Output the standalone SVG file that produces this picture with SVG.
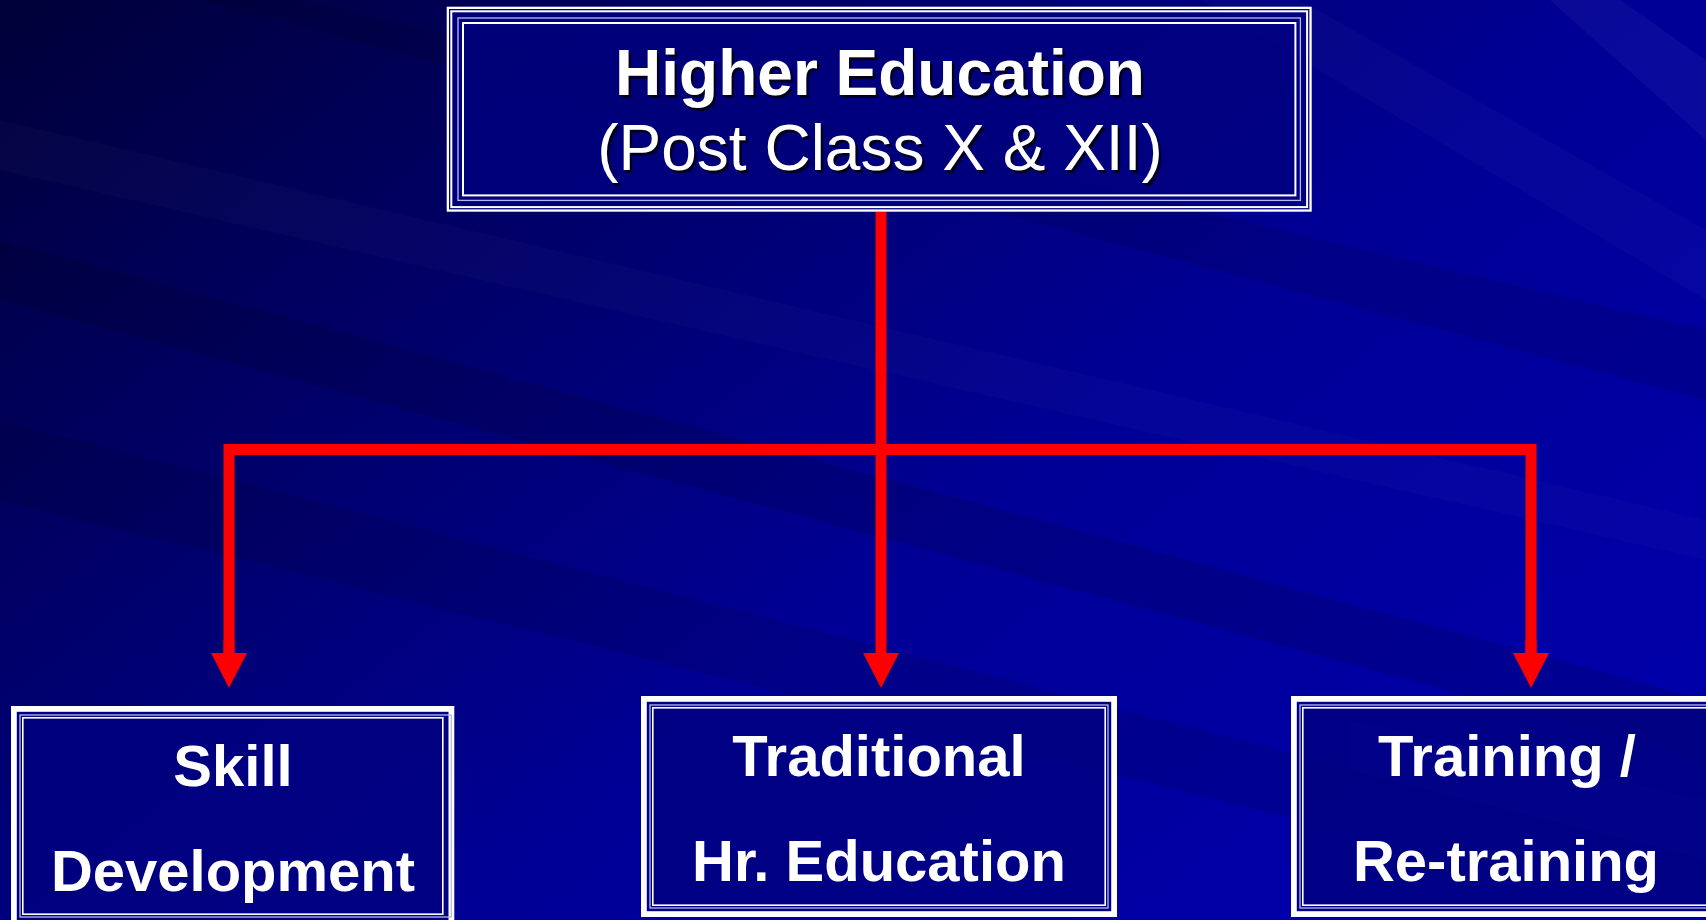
<svg xmlns="http://www.w3.org/2000/svg" width="1706" height="920" viewBox="0 0 1706 920">
<defs>
<linearGradient id="bg" x1="0" y1="0" x2="1" y2="0.7">
<stop offset="0" stop-color="#000038"/>
<stop offset="0.35" stop-color="#00006c"/>
<stop offset="0.65" stop-color="#000096"/>
<stop offset="1" stop-color="#0000a8"/>
</linearGradient>
<marker id="arr" viewBox="0 0 35 36" refX="0" refY="18" markerWidth="35" markerHeight="36" markerUnits="userSpaceOnUse" orient="auto">
<path d="M0,0 L35,18 L0,36 Z" fill="#ff0000"/>
</marker>
<style>
.w{fill:none;stroke:#ffffff}
.lt{fill:none;stroke:#b8b8f0}
.fill{fill:#000080;fill-opacity:0.82}
.t{font-family:"Liberation Sans",Arial,sans-serif;fill:#ffffff;text-anchor:middle}
.b{font-weight:bold}
.sh{fill:#000020}
.con{fill:none;stroke:#ff0000;stroke-width:11}
</style>
</defs>
<rect width="1706" height="920" fill="url(#bg)"/>
<g id="streaks">
<polygon points="0,240 1706,700 1706,760 0,300" fill="#000000" opacity="0.12"/>
<polygon points="0,420 1706,860 1706,920 0,500" fill="#000000" opacity="0.1"/>
<polygon points="0,120 1706,520 1706,560 0,170" fill="#ffffff" opacity="0.02"/>
<polygon points="300,0 1706,330 1706,400 200,0" fill="#000000" opacity="0.1"/>
<polygon points="1300,0 1706,230 1706,300 1200,0" fill="#ffffff" opacity="0.025"/>
<polygon points="1550,0 1706,140 1706,60 1620,0" fill="#ffffff" opacity="0.04"/>
<polygon points="1350,720 1706,800 1706,860 1350,770" fill="#ffffff" opacity="0.06"/>
</g>
<g id="connectors">
<line class="con" x1="881" y1="212" x2="881" y2="653" marker-end="url(#arr)"/>
<polyline class="con" points="229,653 229,449.5 1531,449.5 1531,653"/>
<line class="con" x1="229" y1="640" x2="229" y2="653" marker-end="url(#arr)"/>
<line class="con" x1="1531" y1="640" x2="1531" y2="653" marker-end="url(#arr)"/>
</g>
<g id="node-top">
<rect class="fill" x="446.7" y="6.7" width="865" height="205" fill-opacity="0.7"/>
<rect class="w" x="447.85" y="7.85" width="862.7" height="202.7" stroke-width="2.3"/>
<rect class="w" x="451.3" y="11.3" width="855.8" height="195.8" stroke-width="2"/>
<rect class="lt" x="458" y="18" width="842.4" height="182.4" stroke-width="1.3"/>
<rect class="w" x="463" y="23" width="832.4" height="172.4" stroke-width="2"/>
<text class="t b sh" x="882.5" y="97.5" font-size="64">Higher Education</text>
<text class="t b" x="880" y="95" font-size="64">Higher Education</text>
<text class="t sh" x="882.5" y="172.5" font-size="64">(Post Class X &amp; XII)</text>
<text class="t" x="880" y="170" font-size="64">(Post Class X &amp; XII)</text>
</g>
<g id="node-skill">
<rect class="fill" x="11" y="706" width="443.3" height="220"/>
<rect class="w" x="13.9" y="708.9" width="437.5" height="214.2" stroke-width="5.8"/>
<rect class="lt" x="20" y="715" width="431.3" height="202" stroke-width="1.3"/>
<rect class="w" x="22.8" y="717.8" width="420" height="196.4" stroke-width="1.6"/>
<text class="t b" x="233" y="786" font-size="58">Skill</text>
<text class="t b" x="233" y="891" font-size="58">Development</text>
</g>
<g id="node-traditional">
<rect class="fill" x="641" y="696" width="476" height="221"/>
<rect class="w" x="643.9" y="698.9" width="470.2" height="215.2" stroke-width="5.8"/>
<rect class="lt" x="650" y="705" width="458" height="203" stroke-width="1.3"/>
<rect class="w" x="652.8" y="707.8" width="452.4" height="197.4" stroke-width="1.6"/>
<text class="t b" x="879" y="776" font-size="58">Traditional</text>
<text class="t b" x="879" y="881" font-size="58">Hr. Education</text>
</g>
<g id="node-training">
<rect class="fill" x="1291" y="696" width="430" height="221" fill-opacity="0.7"/>
<rect class="w" x="1293.9" y="698.9" width="424.2" height="215.2" stroke-width="5.8"/>
<rect class="lt" x="1300" y="705" width="412" height="203" stroke-width="1.3"/>
<rect class="w" x="1302.8" y="707.8" width="406.4" height="197.4" stroke-width="1.6"/>
<text class="t b" x="1507" y="776" font-size="58">Training /</text>
<text class="t b" x="1506" y="881" font-size="58">Re-training</text>
</g>
</svg>
